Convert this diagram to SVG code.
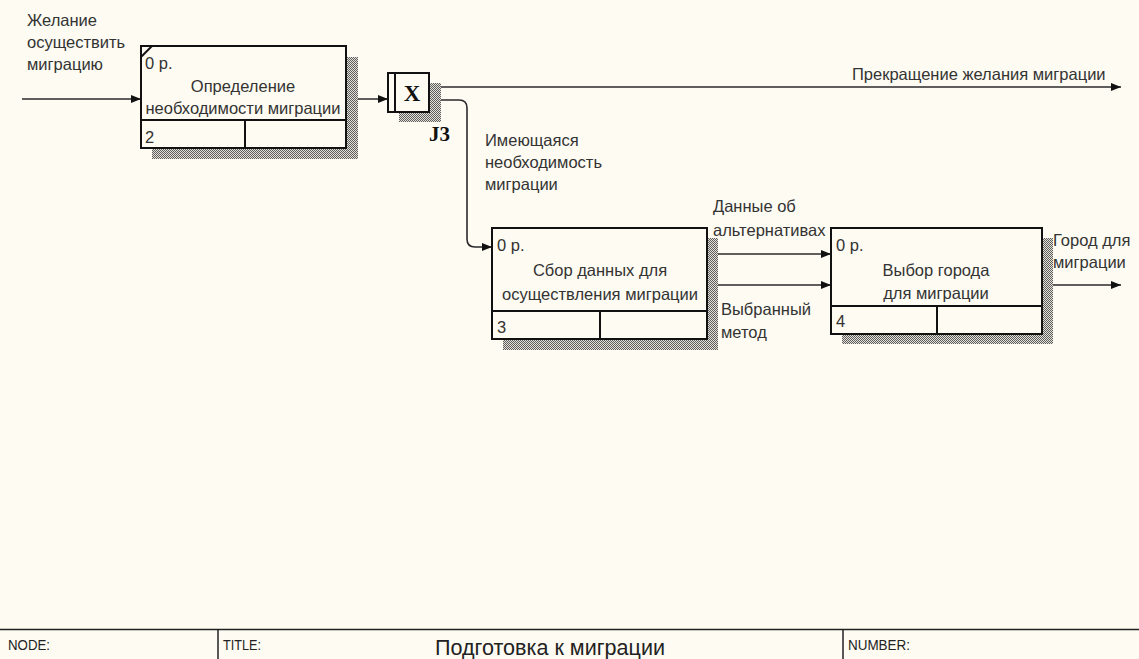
<svg xmlns="http://www.w3.org/2000/svg" width="1139" height="659" viewBox="0 0 1139 659">
<defs>
<pattern id="hatch" width="2" height="2" patternUnits="userSpaceOnUse">
<rect width="2" height="2" fill="#e4e2d8"/>
<rect width="1" height="1" fill="#5e5e5e"/>
<rect x="1" y="1" width="1" height="1" fill="#5e5e5e"/>
</pattern>
<marker id="arr" viewBox="0 0 10 8" refX="10" refY="4" markerWidth="10" markerHeight="8" markerUnits="userSpaceOnUse" orient="auto">
<path d="M0,0 L10,4 L0,8 Z" fill="#111"/>
</marker>
<style>
.bg{fill:#fdfbf2}
.box{fill:#fdfbf2;stroke:#111;stroke-width:2}
.div{stroke:#111;stroke-width:2;fill:none}
.sh{fill:url(#hatch)}
.con{stroke:#2a2a2a;stroke-width:1.6;fill:none}
.t{font-family:"Liberation Sans",Arial,sans-serif;font-size:16.5px;fill:#333}
.c{text-anchor:middle}
.j{font-family:"Liberation Serif","Times New Roman",serif;font-weight:bold;fill:#111}
.f{font-family:"Liberation Sans",Arial,sans-serif;fill:#222}
</style>
</defs>
<rect class="bg" x="0" y="0" width="1139" height="659"/>

<g id="connectors">
<line class="con" x1="22" y1="99" x2="141" y2="99" marker-end="url(#arr)"/>
<line class="con" x1="346" y1="99" x2="388" y2="99" marker-end="url(#arr)"/>
<line class="con" x1="429" y1="87" x2="1121" y2="87" marker-end="url(#arr)"/>
<path class="con" d="M429,100 L459,100 Q467,100 467,108 L467,239 Q467,247 475,247 L492,247" marker-end="url(#arr)"/>
<line class="con" x1="707" y1="254" x2="831" y2="254" marker-end="url(#arr)"/>
<line class="con" x1="707" y1="285" x2="831" y2="285" marker-end="url(#arr)"/>
<line class="con" x1="1042" y1="285" x2="1121" y2="285" marker-end="url(#arr)"/>
</g>

<g id="labels">
<text class="t" x="27" y="26">Желание</text>
<text class="t" x="27" y="48">осуществить</text>
<text class="t" x="27" y="70">миграцию</text>
<text class="t" x="852" y="80">Прекращение желания миграции</text>
<text class="t" x="485" y="146">Имеющаяся</text>
<text class="t" x="485" y="168">необходимость</text>
<text class="t" x="485" y="190">миграции</text>
<text class="t" x="713" y="212">Данные об</text>
<text class="t" x="713" y="236">альтернативах</text>
<text class="t" x="721" y="315">Выбранный</text>
<text class="t" x="721" y="338">метод</text>
<text class="t" x="1053" y="246">Город для</text>
<text class="t" x="1053" y="268">миграции</text>
</g>

<g id="node1">
<rect class="sh" x="152" y="57" width="206" height="102"/>
<rect class="box" x="141" y="46" width="205" height="102"/>
<line class="div" x1="141" y1="120" x2="346" y2="120"/>
<line class="div" x1="245" y1="120" x2="245" y2="148"/>
<line class="div" x1="141" y1="57" x2="152" y2="46"/>
<text class="t" x="145" y="69">0 р.</text>
<text class="t c" x="243" y="92">Определение</text>
<text class="t c" x="243" y="114">необходимости миграции</text>
<text class="t" x="145" y="143">2</text>
</g>

<g id="junction-J3">
<rect class="sh" x="399" y="83" width="42" height="39"/>
<rect class="box" x="388" y="73" width="41" height="39"/>
<line class="div" x1="395" y1="73" x2="395" y2="112"/>
<text class="j c" x="412" y="101" font-size="23">X</text>
<text class="j" x="429" y="141" font-size="21">J3</text>
</g>

<g id="node3">
<rect class="sh" x="503" y="238" width="215" height="112"/>
<rect class="box" x="492" y="228" width="215" height="111"/>
<line class="div" x1="492" y1="311" x2="707" y2="311"/>
<line class="div" x1="600" y1="311" x2="600" y2="339"/>
<text class="t" x="497" y="251">0 р.</text>
<text class="t c" x="600" y="276">Сбор данных для</text>
<text class="t c" x="600" y="300">осуществления миграции</text>
<text class="t" x="497" y="333">3</text>
</g>

<g id="node4">
<rect class="sh" x="842" y="238" width="211" height="106"/>
<rect class="box" x="831" y="228" width="211" height="106"/>
<line class="div" x1="831" y1="306" x2="1042" y2="306"/>
<line class="div" x1="937" y1="306" x2="937" y2="334"/>
<text class="t" x="836" y="251">0 р.</text>
<text class="t c" x="936" y="276">Выбор города</text>
<text class="t c" x="936" y="299">для миграции</text>
<text class="t" x="836" y="327">4</text>
</g>

<g id="footer">
<line x1="0" y1="629.5" x2="1139" y2="629.5" stroke="#222" stroke-width="1.5"/>
<line x1="218" y1="629" x2="218" y2="659" stroke="#222" stroke-width="1.5"/>
<line x1="843" y1="629" x2="843" y2="659" stroke="#222" stroke-width="1.5"/>
<text class="f" x="8" y="650" font-size="15" textLength="42" lengthAdjust="spacingAndGlyphs">NODE:</text>
<text class="f" x="223" y="650" font-size="15" textLength="38" lengthAdjust="spacingAndGlyphs">TITLE:</text>
<text class="f" x="435" y="655" font-size="22" textLength="230" lengthAdjust="spacingAndGlyphs">Подготовка к миграции</text>
<text class="f" x="848" y="650" font-size="15" textLength="62" lengthAdjust="spacingAndGlyphs">NUMBER:</text>
</g>
</svg>
